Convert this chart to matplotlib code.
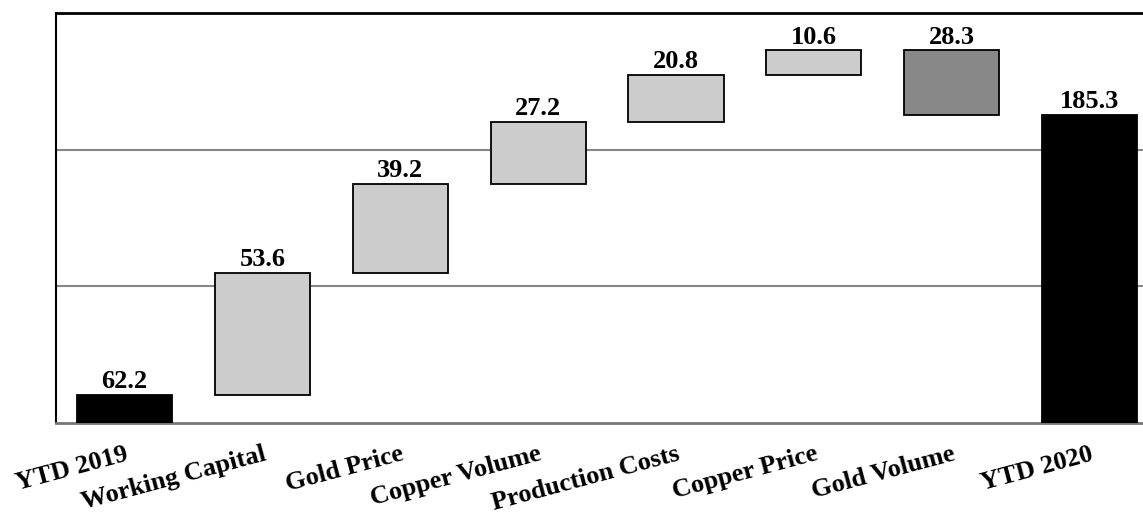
import matplotlib.pyplot as plt

categories = ["YTD 2019", "Working Capital", "Gold Price", "Copper Volume",
              "Production Costs", "Copper Price", "Gold Volume", "YTD 2020"]
# change per step; first and last entries are the period totals
changes = [62.2, 53.6, 39.2, 27.2, 20.8, 10.6, -28.3, 185.3]
kinds = ["total", "up", "up", "up", "up", "up", "down", "total"]

plt.rcParams['font.family'] = ['Liberation Serif', 'DejaVu Serif']
plt.rcParams['font.weight'] = 'bold'

fig = plt.figure(figsize=(11.43, 5.13), dpi=100)
ax = fig.add_axes([0.0486, 0.1754, 0.965, 0.799])

y_min = 50
bottoms = []
heights = []
running = 0
for val, kind in zip(changes, kinds):
    if kind == "total":
        bottoms.append(y_min)
        heights.append(val - y_min)
        running = val
    elif kind == "up":
        bottoms.append(running)
        heights.append(val)
        running += val
    else:
        bottoms.append(running + val)
        heights.append(-val)
        running += val

colours = {"total": "black", "up": "#cccccc", "down": "#888888"}
x = range(len(categories))
bars = ax.bar(x, heights, bottom=bottoms, width=0.69,
              color=[colours[k] for k in kinds],
              edgecolor="black", linewidth=1.3, zorder=3)

for b, val, bot, h in zip(bars, changes, bottoms, heights):
    ax.text(b.get_x() + b.get_width() / 2, bot + h + 0.8, f"{abs(val):.1f}",
            ha="center", va="bottom", fontsize=19, fontweight="bold")

ax.set_xlim(-0.5, 7.5)
ax.set_ylim(y_min, 230)
ax.set_yticks([110, 170])
ax.set_yticklabels([])
ax.tick_params(axis="y", length=0)
ax.yaxis.grid(True, color="#888888", linewidth=1.5, zorder=0)

ax.set_xticks(list(x))
ax.set_xticklabels(categories, rotation=15, ha="right", va="top",
                   rotation_mode="anchor", fontsize=19, fontweight="bold")
ax.tick_params(axis="x", length=0, pad=14)
for lbl in ax.get_xticklabels():
    lbl.set_x(lbl.get_position()[0])

ax.spines["left"].set_color("black")
ax.spines["left"].set_linewidth(1.5)
ax.spines["top"].set_color("black")
ax.spines["top"].set_linewidth(2)
ax.spines["bottom"].set_color("#777777")
ax.spines["bottom"].set_linewidth(2)
ax.spines["right"].set_visible(False)

fig.savefig("out.png", dpi=100)
